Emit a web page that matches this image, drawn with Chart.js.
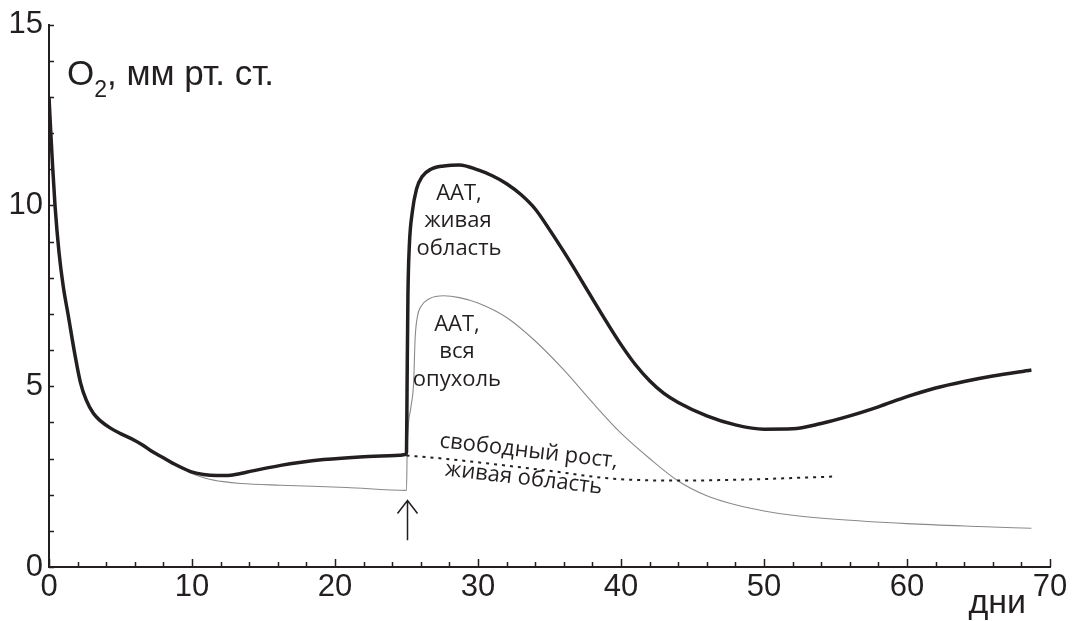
<!DOCTYPE html>
<html>
<head>
<meta charset="utf-8">
<script src="https://cdn.jsdelivr.net/npm/chart.js@4.4.1/dist/chart.umd.min.js"></script>
<style>
  html, body { margin: 0; padding: 0; background: #fff; }
  #wrap { width: 1074px; height: 621px; position: relative; }
</style>
</head>
<body>
<div id="wrap"><canvas id="o2Chart"></canvas></div>
<script>
// ААТ, живая область (thick line)
const liveDays = [0, 0.1, 0.25, 0.42, 0.7, 1.0, 1.35, 1.8, 2.2, 2.6, 3.1, 3.6, 4.3, 5.0, 6.0, 6.6, 7.1, 8.0, 8.7, 9.9, 10.8, 11.7, 12.7, 13.8, 15, 16.2, 17.5, 19.2, 22, 24.5, 24.9, 25.0,
  25.04, 25.1, 25.2, 25.4, 25.7, 26.1, 26.7, 27.6, 28.7, 30, 31, 32, 33, 34, 35, 36, 37, 38, 39, 40, 41, 42, 43, 44, 46, 48, 50, 52, 54, 56, 58, 60, 62, 64, 66, 68.7];
const liveO2 = [13.0, 12.2, 11.1, 10.0, 8.7, 7.75, 6.95, 5.9, 5.1, 4.62, 4.25, 4.04, 3.84, 3.69, 3.5, 3.36, 3.22, 3.02, 2.86, 2.64, 2.56, 2.53, 2.54, 2.62, 2.72, 2.81, 2.89, 2.97, 3.05, 3.09, 3.11, 3.17,
  5.0, 7.5, 8.9, 9.8, 10.45, 10.8, 11.0, 11.09, 11.12, 10.98, 10.82, 10.6, 10.3, 9.9, 9.33, 8.72, 8.08, 7.42, 6.77, 6.15, 5.6, 5.15, 4.8, 4.55, 4.18, 3.93, 3.81, 3.82, 3.97, 4.18, 4.43, 4.71, 4.95, 5.13, 5.28, 5.45];

// ААТ, вся опухоль (thin line)
const wholeDays = [8.7, 9.9, 11.0, 12.2, 13.4, 16.2, 20.8, 25.0, 25.05, 25.3, 25.5, 25.6, 25.75, 26.0, 26.6, 27.6, 28.7, 30, 32, 34, 36, 38,
  40, 42, 44, 46, 48, 50, 52, 55, 60, 65, 68.7];
const wholeO2 = [2.86, 2.6, 2.45, 2.36, 2.31, 2.26, 2.2, 2.12, 3.3, 4.4, 5.1, 6.3, 6.9, 7.2, 7.42, 7.5, 7.45, 7.3, 6.9, 6.25, 5.45, 4.55,
  3.7, 3.0, 2.38, 1.97, 1.72, 1.55, 1.43, 1.32, 1.2, 1.12, 1.07];

// свободный рост, живая область (dotted line)
const freeDays = [25.0, 27.0, 30.1, 34.8, 39.5, 44.1, 48.8, 54.8];
const freeO2 = [3.08, 3.02, 2.89, 2.67, 2.44, 2.39, 2.42, 2.5];

const xTicks = [0, 10, 20, 30, 40, 50, 60, 70];
const yTicks = [0, 5, 10, 15];

const ink = "#231f20";

const toPoints = (xs, ys) => xs.map((x, i) => ({ x: x, y: ys[i] }));

// text labels inside the plot, placed in data units
const notes = [
  { text: "ААТ,", day: 28.67, val: 10.15 },
  { text: "живая", day: 28.6, val: 9.39 },
  { text: "область", day: 28.67, val: 8.62 },
  { text: "ААТ,", day: 28.53, val: 6.52 },
  { text: "вся", day: 28.53, val: 5.78 },
  { text: "опухоль", day: 28.53, val: 5.01 },
  { text: "свободный рост,", day: 33.5, val: 3.03, rot: 0.115 },
  { text: "живая область", day: 33.15, val: 2.28, rot: 0.115 }
];

// treatment arrow at day 25
const arrowDay = 25.0;
const arrowFrom = 0.74;
const arrowTo = 1.84;

const decorPlugin = {
  id: "decor",
  afterDraw(chart) {
    const { ctx, scales: { x, y } } = chart;
    const left = x.left;
    const bottom = y.bottom;
    ctx.save();
    ctx.strokeStyle = ink;
    ctx.lineWidth = 1.5;
    // inward tick marks
    for (let v = 0; v <= 15; v++) {
      const py = Math.round(y.getPixelForValue(v)) + 0.5;
      ctx.beginPath();
      ctx.moveTo(left, py);
      ctx.lineTo(left + 5, py);
      ctx.stroke();
    }
    for (let d = 0; d <= 70; d += 2) {
      const px = Math.round(x.getPixelForValue(d)) + 0.5;
      const len = d % 10 === 0 ? 8 : 5;
      ctx.beginPath();
      ctx.moveTo(px, bottom);
      ctx.lineTo(px, bottom - len);
      ctx.stroke();
    }

    // arrow
    const ax = Math.round(x.getPixelForValue(arrowDay)) + 0.5;
    const ay0 = y.getPixelForValue(arrowFrom);
    const ay1 = y.getPixelForValue(arrowTo);
    ctx.lineWidth = 1.5;
    ctx.beginPath();
    ctx.moveTo(ax, ay0);
    ctx.lineTo(ax, ay1);
    ctx.moveTo(ax - 10, ay1 + 13);
    ctx.lineTo(ax, ay1);
    ctx.lineTo(ax + 10, ay1 + 13);
    ctx.stroke();

    // annotations
    ctx.fillStyle = ink;
    ctx.font = '22px "Open Sans"';
    ctx.textAlign = "center";
    ctx.textBaseline = "alphabetic";
    notes.forEach(n => {
      const px = x.getPixelForValue(n.day);
      const py = y.getPixelForValue(n.val);
      ctx.save();
      ctx.translate(px, py);
      if (n.rot) ctx.rotate(n.rot);
      ctx.fillText(n.text, 0, 0);
      ctx.restore();
    });

    // axis titles
    ctx.textAlign = "left";
    const tx = x.getPixelForValue(1.26);
    const ty = y.getPixelForValue(13.32);
    ctx.font = '35px "Liberation Sans", Arial';
    ctx.fillText("O", tx, ty);
    const oW = ctx.measureText("O").width;
    ctx.font = '23px "Liberation Sans", Arial';
    ctx.fillText("2", tx + oW, ty + 12);
    const sW = ctx.measureText("2").width;
    ctx.font = '35px "Liberation Sans", Arial';
    ctx.fillText(", мм рт. ст.", tx + oW + sW, ty);

    ctx.font = '34px "Liberation Sans", Arial';
    ctx.fillText("дни", x.getPixelForValue(64.3), y.getPixelForValue(-1.27));
    ctx.restore();
  }
};

new Chart(document.getElementById("o2Chart"), {
  type: "line",
  data: {
    datasets: [
      {
        label: "ААТ, живая область",
        data: toPoints(liveDays, liveO2),
        borderColor: ink,
        borderWidth: 3.5,
        pointRadius: 0,
        cubicInterpolationMode: "monotone",
        order: 0
      },
      {
        label: "ААТ, вся опухоль",
        data: toPoints(wholeDays, wholeO2),
        borderColor: "#8a8a8a",
        borderWidth: 1.1,
        pointRadius: 0,
        cubicInterpolationMode: "monotone",
        order: 2
      },
      {
        label: "свободный рост, живая область",
        data: toPoints(freeDays, freeO2),
        borderColor: ink,
        borderWidth: 2,
        borderDash: [3, 5],
        pointRadius: 0,
        cubicInterpolationMode: "monotone",
        order: 1
      }
    ]
  },
  options: {
    responsive: true,
    maintainAspectRatio: false,
    animation: false,
    layout: { padding: { top: 22, right: 24, left: 0, bottom: 0 } },
    plugins: {
      legend: { display: false },
      tooltip: { enabled: false }
    },
    scales: {
      x: {
        type: "linear",
        min: 0,
        max: 70,
        afterFit: s => { s.height = 54; },
        afterBuildTicks: s => { s.ticks = xTicks.map(v => ({ value: v })); },
        grid: { display: false, drawTicks: false },
        border: { display: true, color: ink, width: 2 },
        ticks: {
          color: ink,
          padding: 2,
          font: { family: "'Liberation Sans', Arial", size: 31 }
        }
      },
      y: {
        min: 0,
        max: 15,
        afterFit: s => { s.width = 49; },
        afterBuildTicks: s => { s.ticks = yTicks.map(v => ({ value: v })); },
        grid: { display: false, drawTicks: false },
        border: { display: true, color: ink, width: 2 },
        ticks: {
          color: ink,
          padding: 6,
          font: { family: "'Liberation Sans', Arial", size: 31 }
        }
      }
    }
  },
  plugins: [decorPlugin]
});
</script>
</body>
</html>
